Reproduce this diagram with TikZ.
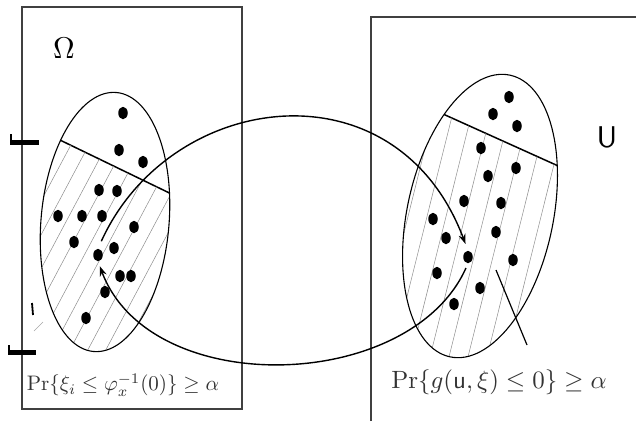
\documentclass[tikz,border=0pt]{standalone}
\usepackage{amsmath, amssymb}
\usetikzlibrary{arrows.meta, shapes.geometric, calc}
\tikzstyle{frameLine} = [draw=black!75, line width=1.3pt]
\tikzstyle{region} = [draw, line width=1.1pt]
\tikzstyle{hatchLine} = [draw=black!45, line width=0.5pt]
\tikzstyle{cut} = [draw, line width=1.5pt]
\tikzstyle{dotMark} = [ellipse, fill, inner sep=0pt, minimum width=9.5pt, minimum height=12.5pt]
\tikzstyle{ar} = [-{Stealth[length=10pt, width=7pt]}, line width=1.4pt]
\tikzstyle{setName} = [anchor=center, inner sep=0pt]
\tikzstyle{formula} = [anchor=center, inner sep=0pt, text=black!80]
\tikzstyle{blot} = [line width=5pt]

\begin{document}
\begin{tikzpicture}[x=1pt, y=-1pt]
    \useasboundingbox (0,0) rectangle (636,421);

    % the two sets
    \draw [frameLine] (22,7) rectangle (242,409);
    \draw [frameLine] (371,421) -- (371,17) -- (636,17);
    \node (omega) [setName, scale=3] at (64,48) {$\Omega$};
    \node (uSet) [setName, font=\sffamily, scale=3] at (607,137) {U};

    % left region, hatched below the cut
    \begin{scope}
        \clip [rotate around={-5:(105,222)}] (105,222) ellipse [x radius=64, y radius=130];
        \draw [cut] (0,111) -- (250,232);
        \clip (0,111) -- (250,232) -- (250,421) -- (0,421) -- cycle;
        \foreach \x in {-220,-202,...,200}{
            \draw [hatchLine] (\x,421) -- ++(224,-421);
        }
    \end{scope}
    \draw [region, rotate around={-5:(105,222)}] (105,222) ellipse [x radius=64, y radius=130];

    % right region
    \begin{scope}
        \clip [rotate around={-12:(480,216)}] (480,216) ellipse [x radius=73, y radius=144];
        \draw [cut] (380,85.6) -- (600,184.8);
        \clip (380,85.6) -- (600,184.8) -- (600,421) -- (380,421) -- cycle;
        \foreach \x in {300,319,...,600}{
            \draw [hatchLine] (\x,421) -- ++(105,-421);
        }
    \end{scope}
    \draw [region, rotate around={-12:(480,216)}] (480,216) ellipse [x radius=73, y radius=144];

    % the points
    \foreach \px/\py [count=\i] in {123/113, 119/150, 143/162, 99/190, 117/191, 58/216, 82/216, 102/216,
        134/227, 74/242, 114/248, 98/255, 120/276, 131/276, 105/292, 86/318}{
        \node (l\i) [dotMark] at (\px,\py) {};
    }
    \foreach \px/\py [count=\i] in {509/97, 493/114, 517/126, 481/148, 516/168, 488/176, 464/201, 501/203,
        433/219, 496/232, 446/238, 468/257, 513/260, 437/273, 480/288, 454/304}{
        \node (r\i) [dotMark] at (\px,\py) {};
    }

    % mappings
    \draw [ar, shorten <=8pt, shorten >=7pt] (l12.north) .. controls (170,90) and (396,60) .. (r12.north);
    \draw [ar, shorten <=5pt, shorten >=5pt] (r12.south) .. controls (410,393) and (150,400) .. (l12.south);

    % probabilities
    \node (probL) [formula, scale=2.1] at (123,385) {$\Pr\{\xi_i \leq \varphi_x^{-1}(0)\} \geq \alpha$};
    \node (probR) [formula, scale=2.5] at (499,382) {$\Pr\{g(\textsf{u},\xi) \leq 0\} \geq \alpha$};
    \coordinate (ptrIn) at (496,270);
    \coordinate (ptrOut) at (527,345);
    \draw [line width=1.2pt] (ptrIn) -- (ptrOut);

    % marks in the margin
    \draw [blot] (10,142) -- (39,142);
    \draw [line width=2.5pt] (11,143) -- (11,134);
    \draw [blot] (8,352) -- (36,352);
    \draw [line width=2.5pt] (9,353) -- (9,345);
    \draw [line width=1.8pt] (32,303) -- (33,315);
    \draw [black!35, line width=0.6pt] (34,331) -- (43,322);
\end{tikzpicture}
\end{document}
